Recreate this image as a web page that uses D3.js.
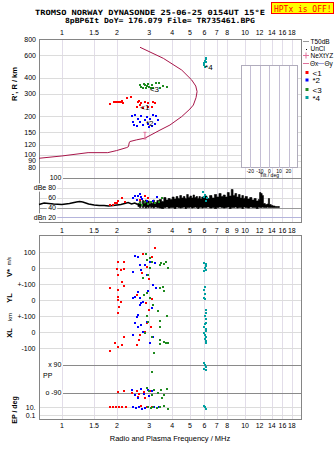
<!DOCTYPE html>
<html>
<head>
<meta charset="utf-8">
<script src="https://cdn.jsdelivr.net/npm/d3@7"></script>
<style>
body { margin: 0; background: #fff; }
svg { display: block; }
text { font-family: "Liberation Sans", Arial, sans-serif; }
</style>
</head>
<body>
<svg id="chart"></svg>
<script>
// tick values
const freqTicks = [1, 1.5, 2, 3, 4, 5, 6, 7, 8, 10, 12, 14, 16, 18];
const midFreqTicks = [1, 1.5, 2, 3, 4, 5, 6, 7, 8, 9, 10, 12, 14, 16, 18];
const heightTicks = [800, 600, 400, 300, 200, 150, 120, 100, 90, 80];
const dbTicks = [100, 80, 60, 40, 20];
const dbLabels = ["100", "dBe 80", "60", "40", "dBn 20"];
const tiltTicks = [-20, -10, 0, 10, 20];
// lower panel rows (1 unit = 100 m/s)
const rowValues = [1, 0, -1, -2, -3, -4, -5, -6.04, -7.79, -8.69, -9.19];
const rowLabels = ["100", "0", "+-100", "0", "+-100", "0", "-100", "x 90", "o -90", "10.", "0.1"];

// true height profile
const profileFreq = [0.75, 1.0, 1.39, 1.78, 1.99, 2.26, 2.31, 2.33, 2.35, 2.56, 2.84, 3.43, 3.89, 4.51, 5.0, 5.22, 5.4, 5.47, 5.38, 5.11, 4.51, 3.58, 2.67];
const profileHeight = [94, 98, 104, 104, 108, 114, 116, 124, 127, 131, 135, 156, 171, 199, 228, 245, 280, 312, 345, 385, 460, 568, 693];

// echoes, top panel [MHz, km]
const red1Top = [[1.83,250],[1.92,260],[1.97,260],[2.02,261],[2.06,260],[2.10,258],[2.14,262],[2.16,255],[2.26,277],[2.38,285],
  [2.61,260],[2.67,245],[2.56,238],[2.72,253],[2.84,260],[2.96,253],[2.96,238],[3.09,238],[3.22,253],[3.15,260],[2.78,232],[2.65,265]];
const blue2Top = [[2.4,200],[2.5,205],[2.61,191],[2.45,180],[2.56,168],[2.72,202],[2.84,186],[2.96,175],[3.15,205],[3.28,200],
  [3.22,175],[3.09,168],[2.67,180],[2.9,197],[2.78,172],[3.03,190],[3.35,186],[2.48,172],[3.0,165]];
const green3Top = [[2.67,352],[2.72,340],[2.8,360],[2.85,352],[2.9,345],[2.95,355],[3.0,340],[3.05,330],[3.1,350],[2.88,333],
  [2.78,335],[3.15,330],[3.4,362],[3.45,335],[3.55,345],[3.75,340],[3.25,362]];
const cyan4Top = [[6.0,520],[6.05,545],[6.1,560],[6.15,575],[6.0,500],[6.05,490],[6.1,530]];
const markerLabels = ["<1", "*2", "<3", "*4"];
const markerFreq = [2.75, 2.95, 3.1, 6.2];
const markerHeight = [238, 178, 325, 490];

// amplitude panel
const ampFreq = [0.75, 0.8, 0.9, 1.0, 1.1, 1.2, 1.25, 1.3, 1.4, 1.5, 1.6, 1.7, 1.8, 1.9, 2.0, 2.1, 2.2, 2.3, 2.4, 2.5, 2.6];
const ampDb = [46, 49, 47, 46, 48, 51, 52, 51, 47, 45, 44, 44, 43, 44, 45, 46, 48, 50, 47, 49, 46];
const bandFreq = [2.6, 2.65, 2.7, 2.75, 2.8, 2.85, 2.9, 2.95, 3.0, 3.05, 3.1, 3.15, 3.2, 3.3, 3.4, 3.5, 3.6, 3.7, 3.8, 3.9,
  4.0, 4.1, 4.2, 4.3, 4.4, 4.5, 4.6, 4.7, 4.8, 4.9, 5.0, 5.1, 5.2, 5.3, 5.4, 5.5, 5.6, 5.7, 5.8, 5.9,
  6.0, 6.2, 6.4, 6.6, 6.8, 7.0, 7.2, 7.4, 7.6, 7.8, 8.0, 8.2, 8.4, 8.6, 8.8, 9.0, 9.2, 9.4, 9.6, 9.8,
  10.0, 10.3, 10.6, 10.9, 11.2, 11.5, 11.8, 12.0, 12.2, 12.4, 12.6, 12.9, 13.2, 13.4, 13.6, 13.9, 14.2, 14.6, 15.0, 15.4];
const bandTop = [48, 52, 46, 54, 48, 55, 50, 53, 47, 52, 48, 55, 50, 54, 56, 52, 60, 55, 58, 56,
  61, 57, 62, 58, 64, 59, 62, 58, 66, 60, 63, 59, 65, 60, 62, 58, 62, 57, 61, 59,
  63, 58, 64, 59, 66, 61, 68, 62, 65, 61, 70, 63, 76, 64, 68, 61, 66, 59, 64, 58,
  62, 57, 60, 55, 58, 53, 56, 70, 68, 64, 48, 46, 47, 58, 46, 44, 43, 42, 42, 42];
const bandBottom = [42, 40, 43, 40, 42, 39, 41, 40, 42, 40, 41, 39, 41, 40, 39, 38, 40, 41, 39, 40,
  40, 38, 41, 40, 39, 40, 41, 38, 40, 40, 41, 39, 40, 41, 40, 38, 40, 41, 39, 40,
  40, 41, 39, 40, 38, 40, 41, 40, 39, 40, 41, 38, 40, 40, 41, 39, 40, 40, 38, 41,
  40, 39, 41, 40, 40, 38, 41, 40, 40, 41, 40, 40, 41, 40, 40, 40, 40, 40, 40, 40];
const red1Db = [[1.95,49],[2.03,54],[2.12,59],[1.9,46],[1.83,45],[2.6,63],[2.85,63],[2.96,60],[2.67,56],[2.0,50],[2.2,52]];
const blue2Db = [[2.45,59],[2.5,63],[2.67,67],[2.7,62],[2.75,58],[2.56,56],[2.9,54],[3.15,53],[3.3,61],[2.6,64]];
const green3Db = [[2.67,49],[2.84,51],[2.96,47],[3.08,51],[3.22,49],[3.5,59],[3.4,52],[2.75,46]];
const cyan4Db = [[5.9,71],[6.05,66],[6.17,59],[6.1,54],[6.0,62]];

// lower panel [MHz, row]
const red1Low = [[2.02,0.41],[2.18,0.41],[1.99,-0.04],[2.10,-0.11],[2.18,-0.04],[2.02,-0.42],[2.14,-0.84],[2.18,-1.09],[1.83,-1.25],[2.02,-1.36],
  [3.22,1.25],[2.77,0.89],[3.10,0.73],[2.67,0.2],[2.9,0.05],[2.73,-0.3],[3.0,-0.7],
  [2.02,-1.77],[2.02,-1.98],[2.10,-2.09],[2.06,-2.40],[2.02,-2.81],[2.57,-1.67],[2.88,-2.19],[3.0,-2.6],[2.67,-2.3],[3.1,-1.9],
  [2.18,-4.27],[1.95,-4.69],[2.02,-4.9],[2.14,-4.8],[1.83,-5.15],[2.67,-4.17],[2.62,-4.48],[2.57,-4.8],[2.9,-3.4],[2.85,-4.0],[3.05,-3.7],
  [2.02,-7.75],[2.18,-7.7],[2.4,-7.8],[2.57,-7.7],[2.65,-7.85],[2.8,-7.75],[3.05,-7.7],[2.6,-8.05],[2.85,-8.1],
  [1.83,-8.67],[1.9,-8.7],[1.98,-8.65],[2.06,-8.7],[2.14,-8.68],[2.25,-8.65],[2.7,-8.62],[2.9,-8.65],[3.1,-8.68]];
const blue2Low = [[2.5,0.77],[2.61,0.73],[2.67,0.2],[2.72,-0.1],[2.45,-0.25],[2.84,0.2],[3.03,0.41],[3.22,0.31],[2.9,-0.42],[3.15,-1.04],[3.28,-1.25],
  [2.45,-1.88],[2.67,-1.88],[2.67,-2.3],[2.72,-2.2],[2.61,-1.46],[2.5,-1.8],[2.9,-1.56],[2.95,-1.4],[2.78,-2.09],[3.09,-2.5],
  [2.56,-3.02],[2.5,-3.44],[2.61,-3.65],[2.72,-3.54],[2.45,-4.17],[2.9,-3.33],[3.03,-4.69],[3.15,-4.27],[2.78,-3.96],[2.6,-2.95],
  [2.4,-7.6],[2.5,-7.9],[2.6,-8.1],[2.7,-7.55],[2.8,-7.85],[2.95,-7.6],[3.0,-8.0],[3.1,-7.7],
  [2.45,-8.7],[2.55,-8.75],[2.65,-8.7],[2.75,-8.78],[2.85,-8.72],[3.2,-8.7],[3.4,-8.68]];
const green3Low = [[2.88,0.89],[3.03,0.62],[2.9,0.52],[3.09,0.41],[3.48,0.31],[3.68,0.41],[3.03,0],[2.96,-0.42],[3.55,-1.15],[2.78,-0.62],
  [3.43,0.2],[3.6,0.25],[3.78,0.04],
  [2.9,-1.56],[3.03,-1.88],[3.15,-2.3],[3.35,-2.7],[2.8,-1.7],[3.43,-1.25],[3.6,-1.4],[3.75,-3.0],
  [2.9,-3.0],[2.96,-3.33],[2.84,-4.06],[3.09,-4.27],[3.43,-4.48],[3.68,-4.69],[3.18,-5.3],[3.43,-3.65],[3.43,-4.75],[3.6,-4.59],[3.78,-4.69],[3.43,-3.3],
  [3.09,-6.46],
  [2.9,-7.5],[3.0,-7.7],[3.1,-7.9],[3.2,-7.6],[3.35,-7.8],[3.48,-7.6],[3.6,-7.95],[3.75,-7.55],[3.5,-8.1],
  [2.95,-8.7],[3.05,-8.75],[3.15,-8.7],[3.3,-8.72],[3.45,-8.68],[3.62,-8.6],[3.78,-8.8]];
const cyan4Low = [[6.0,0.3],[6.1,0.15],[6.05,0],[6.15,-0.1],[6.0,-0.2],[6.1,0.25],
  [6.05,-1.2],[6.0,-1.35],[6.05,-1.6],[6.0,-1.85],[6.02,-1.95],
  [6.1,-2.6],[6.15,-2.8],[6.05,-3.0],[6.1,-3.2],[6.15,-3.4],[6.05,-3.5],[6.0,-3.7],[6.1,-3.8],[6.15,-3.95],[6.0,-4.05],
  [6.08,-4.15],[6.12,-4.3],[6.02,-4.4],[6.1,-4.55],[6.15,-4.65],
  [6.0,-5.9],[6.05,-6.05],[6.1,-6.2],[6.15,-6.35],[6.0,-6.3],
  [6.0,-8.6],[6.08,-8.7],[6.12,-8.8]];

const width = 335, height = 451;
const svg = d3.select('#chart').attr('width', width).attr('height', height);
svg.append('rect').attr('width', width).attr('height', height).attr('fill', '#fff');

const left = 39, right = 301;
const x = d3.scaleLog().domain([0.75, 20.2]).range([left, right]);
const yH = d3.scaleLog().domain([800, 66.5]).range([39.3, 177.5]);
const yDb = d3.scaleLinear().domain([100, 12]).range([177.5, 221.5]);
const yRow = d3.scaleLinear().domain([2.08, -9.42]).range([235, 419]);
const tilt = d3.scaleLinear().domain([-29, 29.5]).range([241.7, 297.7]);

const vGridColor = '#e2dde9', hGridColor = '#dcdcdc', frameColor = '#858585';

// header
const mono = '"DejaVu Sans Mono", "Liberation Mono", monospace';
svg.append('text').attr('x', 35).attr('y', 14.5)
  .attr('textLength', 230).attr('lengthAdjust', 'spacingAndGlyphs')
  .style('font-family', mono).style('font-size', '7.2px').style('font-weight', 'bold')
  .text('TROMSO NORWAY   DYNASONDE 25-06-25 0154UT 15°E');
svg.append('text').attr('x', 65).attr('y', 22.8)
  .attr('textLength', 190).attr('lengthAdjust', 'spacingAndGlyphs')
  .style('font-family', mono).style('font-size', '7.2px').style('font-weight', 'bold')
  .text('8pBP6It DoY= 176.079 File= TR735461.BPG');
svg.append('rect').attr('x', 271.5).attr('y', 2.5).attr('width', 62).attr('height', 11)
  .attr('fill', '#ffff00').attr('stroke', '#ff0000').attr('stroke-width', 1);
svg.append('text').attr('x', 274).attr('y', 11.5)
  .attr('textLength', 57.5).attr('lengthAdjust', 'spacingAndGlyphs')
  .style('font-family', mono).style('font-size', '8px').attr('fill', '#ff0000')
  .text('HPTx is OFF!');

// vertical grid, upper (height + amplitude) and lower panel
const grid = svg.append('g').attr('shape-rendering', 'crispEdges');
grid.selectAll('.vg1').data(freqTicks).enter().append('line')
  .attr('x1', d => Math.round(x(d)) + 0.5).attr('x2', d => Math.round(x(d)) + 0.5)
  .attr('y1', yH(800)).attr('y2', yDb(12)).attr('stroke', vGridColor);
grid.selectAll('.vg2').data(freqTicks).enter().append('line')
  .attr('x1', d => Math.round(x(d)) + 0.5).attr('x2', d => Math.round(x(d)) + 0.5)
  .attr('y1', yRow(2.08)).attr('y2', yRow(-9.42)).attr('stroke', vGridColor);

// height grid
grid.selectAll('.hg').data(heightTicks.slice(1)).enter().append('line')
  .attr('x1', left).attr('x2', right)
  .attr('y1', d => Math.round(yH(d)) + 0.5).attr('y2', d => Math.round(yH(d)) + 0.5)
  .attr('stroke', hGridColor);
svg.selectAll('.hl').data(heightTicks).enter().append('text')
  .attr('x', 36).attr('y', d => yH(d) + 2.5).attr('text-anchor', 'end')
  .style('font-size', '7px').text(d => d);

// amplitude grid
grid.selectAll('.dg').data(dbTicks).enter().append('line')
  .attr('x1', d => d === 100 ? x(1) + 1 : left).attr('x2', right)
  .attr('y1', d => Math.round(yDb(d)) + 0.5).attr('y2', d => Math.round(yDb(d)) + 0.5)
  .attr('stroke', d => d === 100 ? '#8a8a8a' : d === 40 ? '#9a9a9a' : d === 20 ? '#b4b4dc' : hGridColor);

// lower panel grid
grid.selectAll('.rg').data(rowValues).enter().append('line')
  .attr('x1', (d, i) => (i === 7 || i === 8) ? x(1) + 1 : left).attr('x2', right)
  .attr('y1', d => Math.round(yRow(d)) + 0.5).attr('y2', d => Math.round(yRow(d)) + 0.5)
  .attr('stroke', (d, i) => (i === 7 || i === 8) ? '#8a8a8a' : hGridColor);

// tilt inset
svg.append('rect').attr('x', tilt(-29)).attr('y', 65.5).attr('width', tilt(29.5) - tilt(-29)).attr('height', 102)
  .attr('fill', '#fff').attr('stroke', '#b0acbc').attr('shape-rendering', 'crispEdges');
svg.selectAll('.tg').data(tiltTicks).enter().append('line')
  .attr('x1', d => Math.round(tilt(d)) + 0.5).attr('x2', d => Math.round(tilt(d)) + 0.5)
  .attr('y1', 65.5).attr('y2', 167.5).attr('stroke', '#c4bed4').attr('shape-rendering', 'crispEdges');
svg.selectAll('.tl').data(tiltTicks).enter().append('text')
  .attr('x', d => tilt(d)).attr('y', 172.5).attr('text-anchor', 'middle')
  .style('font-size', '5px').text(d => d);
svg.append('text').attr('x', tilt(0)).attr('y', 177).attr('text-anchor', 'middle')
  .style('font-size', '5px').text('Tilt / deg');

// frames
const frame = svg.append('g').attr('fill', 'none').attr('stroke', frameColor).attr('shape-rendering', 'crispEdges');
frame.append('rect').attr('x', left + 0.5).attr('y', Math.round(yH(800)) + 0.5)
  .attr('width', right - left).attr('height', Math.round(yDb(12)) - Math.round(yH(800)));
frame.append('rect').attr('x', left + 0.5).attr('y', Math.round(yRow(2.08)) + 0.5)
  .attr('width', right - left).attr('height', Math.round(yRow(-9.42)) - Math.round(yRow(2.08)));

// labels with white halo (cover grid lines)
svg.selectAll('.dl').data(dbTicks).enter().append('text')
  .attr('x', d => d === 100 ? x(1) - 0.5 : 56).attr('y', d => yDb(d) + 2.5).attr('text-anchor', 'end')
  .attr('stroke', '#fff').attr('stroke-width', 3).attr('paint-order', 'stroke')
  .style('font-size', '7px').text((d, i) => dbLabels[i]);
svg.selectAll('.rl').data(rowValues).enter().append('text')
  .attr('x', (d, i) => (i === 7 || i === 8) ? x(1) - 0.5 : 35.5).attr('y', d => yRow(d) + 2.5).attr('text-anchor', 'end')
  .attr('stroke', '#fff').attr('stroke-width', 3).attr('paint-order', 'stroke')
  .style('font-size', '7px').text((d, i) => rowLabels[i]);
svg.append('text').attr('x', 43).attr('y', yRow(-6.7) + 2.5).style('font-size', '7px').text('PP');

// frequency axes labels
svg.selectAll('.ft').data(freqTicks).enter().append('text')
  .attr('x', d => x(d)).attr('y', 35).attr('text-anchor', 'middle').style('font-size', '7px').text(d => d);
svg.selectAll('.fm').data(midFreqTicks).enter().append('text')
  .attr('x', d => x(d)).attr('y', 233).attr('text-anchor', 'middle').style('font-size', '7px').text(d => d);
svg.selectAll('.fb').data(freqTicks).enter().append('text')
  .attr('x', d => x(d)).attr('y', 428).attr('text-anchor', 'middle').style('font-size', '7px').text(d => d);
svg.append('text').attr('x', 170).attr('y', 441).attr('text-anchor', 'middle')
  .style('font-size', '7.5px').text('Radio and Plasma Frequency / MHz');

// rotated axis titles
function vLabel(tx, ty, txt, size) {
  svg.append('text').attr('transform', `translate(${tx},${ty}) rotate(-90)`)
    .attr('text-anchor', 'middle').style('font-size', size).style('font-weight', 'bold').text(txt);
}
vLabel(16.5, 84, "R', R / km", '7.5px');
vLabel(12, 273, 'V*', '7.5px');
svg.append('text').attr('transform', 'translate(11,261) rotate(-90)').attr('text-anchor', 'middle')
  .style('font-size', '5px').text('m/s');
vLabel(12, 298, 'YL', '7.5px');
svg.append('text').attr('transform', 'translate(12,317) rotate(-90)').attr('text-anchor', 'middle')
  .style('font-size', '6px').text('km');
vLabel(12, 333, 'XL', '7.5px');
vLabel(16.5, 410, 'EP / deg', '7px');

// profile curve
svg.append('path')
  .datum(d3.zip(profileFreq, profileHeight))
  .attr('fill', 'none').attr('stroke', '#a8164a').attr('stroke-width', 1)
  .attr('d', d3.line().x(d => x(d[0])).y(d => yH(d[1])));
// error bar on profile
const ebf = 2.84;
svg.append('g').attr('stroke', '#e0709a').attr('stroke-width', 1).call(g => {
  g.append('line').attr('x1', x(ebf)).attr('x2', x(ebf)).attr('y1', yH(150)).attr('y2', yH(133));
  g.append('line').attr('x1', x(ebf) - 1.5).attr('x2', x(ebf) + 1.5).attr('y1', yH(150)).attr('y2', yH(150));
  g.append('line').attr('x1', x(ebf) - 1.5).attr('x2', x(ebf) + 1.5).attr('y1', yH(133)).attr('y2', yH(133));
});

// amplitude traces
svg.append('path').datum(d3.zip(ampFreq, ampDb))
  .attr('fill', 'none').attr('stroke', '#000').attr('stroke-width', 1.5)
  .attr('d', d3.line().x(d => x(d[0])).y(d => yDb(d[1])));
svg.append('path').datum(d3.zip(bandFreq, bandTop, bandBottom))
  .attr('fill', '#000').attr('stroke', '#000').attr('stroke-width', 0.6)
  .attr('d', d3.area().curve(d3.curveStepAfter).x(d => x(d[0])).y0(d => yDb(d[2])).y1(d => yDb(d[1])));

// echo points
const colors = ['#ff0000', '#0000ff', '#1f8a1f', '#00a0a0'];
const topSets = [red1Top, blue2Top, green3Top, cyan4Top];
const dbSets = [red1Db, blue2Db, green3Db, cyan4Db];
const lowSets = [red1Low, blue2Low, green3Low, cyan4Low];
function dots(data, yScale, color) {
  svg.append('g').attr('fill', color).attr('shape-rendering', 'crispEdges')
    .selectAll('rect').data(data).enter().append('rect')
    .attr('x', d => Math.round(x(d[0]) - 1)).attr('y', d => Math.round(yScale(d[1]) - 1))
    .attr('width', 2.2).attr('height', 2.2);
}
colors.forEach((c, i) => {
  dots(topSets[i], yH, c);
  dots(dbSets[i], yDb, c);
  dots(lowSets[i], yRow, c);
});
svg.selectAll('.mk').data(markerLabels).enter().append('text')
  .attr('x', (d, i) => x(markerFreq[i]) - 2).attr('y', (d, i) => yH(markerHeight[i]) + 3)
  .style('font-size', '8px').text(d => d);

// legend
const lg = svg.append('g');
const lx = 303;
lg.append('line').attr('x1', lx).attr('x2', lx + 6).attr('y1', 41.5).attr('y2', 41.5).attr('stroke', '#999');
lg.append('text').attr('x', lx + 7.5).attr('y', 44).style('font-size', '6.5px').text('T50dB');
lg.append('rect').attr('x', lx + 3).attr('y', 49).attr('width', 1).attr('height', 1).attr('fill', '#000');
lg.append('text').attr('x', lx + 7.5).attr('y', 51).style('font-size', '6.5px').text('UnCl');
lg.append('line').attr('x1', lx).attr('x2', lx + 6).attr('y1', 55.5).attr('y2', 55.5).attr('stroke', '#e0709a');
lg.append('line').attr('x1', lx + 3).attr('x2', lx + 3).attr('y1', 52.5).attr('y2', 58.5).attr('stroke', '#e0709a');
lg.append('text').attr('x', lx + 7.5).attr('y', 58).style('font-size', '6.5px').text('NeXtYZ');
lg.append('line').attr('x1', lx).attr('x2', lx + 6).attr('y1', 63.5).attr('y2', 63.5).attr('stroke', '#e0709a');
lg.append('text').attr('x', lx + 7).attr('y', 66).style('font-size', '6.5px').text('Θx');
lg.append('line').attr('x1', lx + 15).attr('x2', lx + 21).attr('y1', 63.5).attr('y2', 63.5).attr('stroke', '#9c9cd8');
lg.append('text').attr('x', lx + 21.5).attr('y', 66).style('font-size', '6.5px').text('Θy');
const legY = [72.5, 80, 89.5, 97.5];
colors.forEach((c, i) => {
  lg.append('rect').attr('x', lx + 2.5).attr('y', legY[i] - 1.5).attr('width', 3).attr('height', 3).attr('fill', c);
  lg.append('text').attr('x', lx + 9.5).attr('y', legY[i] + 3).style('font-size', '8px').text(markerLabels[i]);
});
</script>
</body>
</html>
